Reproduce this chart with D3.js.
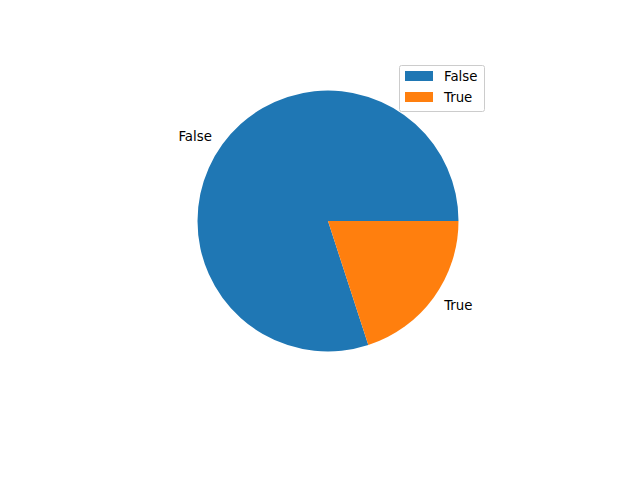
<!DOCTYPE html>
<html>
<head>
<meta charset="utf-8">
<script src="https://d3js.org/d3.v7.min.js"></script>
<style>
  body { margin: 0; background: #fff; }
  text { font-family: "DejaVu Sans", sans-serif; font-size: 13.33px; fill: #000; }
</style>
</head>
<body>
<div id="chart"></div>
<script>
// pie data
var categories = ["False", "True"];
var counts = [80, 20];
var colors = ["#1f77b4", "#ff7f0e"];

var width = 640, height = 480;
var cx = 328, cy = 221, radius = 130.5;

var svg = d3.select("#chart").append("svg")
    .attr("width", width)
    .attr("height", height);

var data = categories.map(function(c, i) { return {name: c, value: counts[i]}; });

// matplotlib starts at 3 o'clock going counter-clockwise
var pie = d3.pie()
    .sort(null)
    .value(function(d) { return d.value; })
    .startAngle(Math.PI / 2)
    .endAngle(Math.PI / 2 - 2 * Math.PI);

var arc = d3.arc().innerRadius(0).outerRadius(radius);
var arcs = pie(data);

var g = svg.append("g").attr("transform", "translate(" + cx + "," + cy + ")");

g.selectAll("path")
    .data(arcs)
  .enter().append("path")
    .attr("d", arc)
    .attr("fill", function(d, i) { return colors[i]; });

// labels at 1.1 * radius
g.selectAll("text.lbl")
    .data(arcs)
  .enter().append("text")
    .attr("class", "lbl")
    .each(function(d) {
      var a = (d.startAngle + d.endAngle) / 2;
      var x = Math.sin(a) * radius * 1.1;
      var y = -Math.cos(a) * radius * 1.1;
      d3.select(this)
        .attr("x", x)
        .attr("y", y)
        .attr("dy", "0.35em")
        .attr("text-anchor", x < 0 ? "end" : "start")
        .text(d.data.name);
    });

// legend
var legend = svg.append("g").attr("transform", "translate(399,65)");
legend.append("rect")
    .attr("x", 0.5).attr("y", 0.5)
    .attr("width", 85).attr("height", 46)
    .attr("rx", 2)
    .attr("fill", "#fff").attr("fill-opacity", 0.8)
    .attr("stroke", "#ccc");

var item = legend.selectAll("g.item")
    .data(data)
  .enter().append("g")
    .attr("class", "item")
    .attr("transform", function(d, i) { return "translate(6," + (6 + i * 21) + ")"; });

item.append("rect")
    .attr("width", 28).attr("height", 10)
    .attr("fill", function(d, i) { return colors[i]; });

item.append("text")
    .attr("x", 39).attr("y", 5)
    .attr("dy", "0.35em")
    .text(function(d) { return d.name; });
</script>
</body>
</html>
